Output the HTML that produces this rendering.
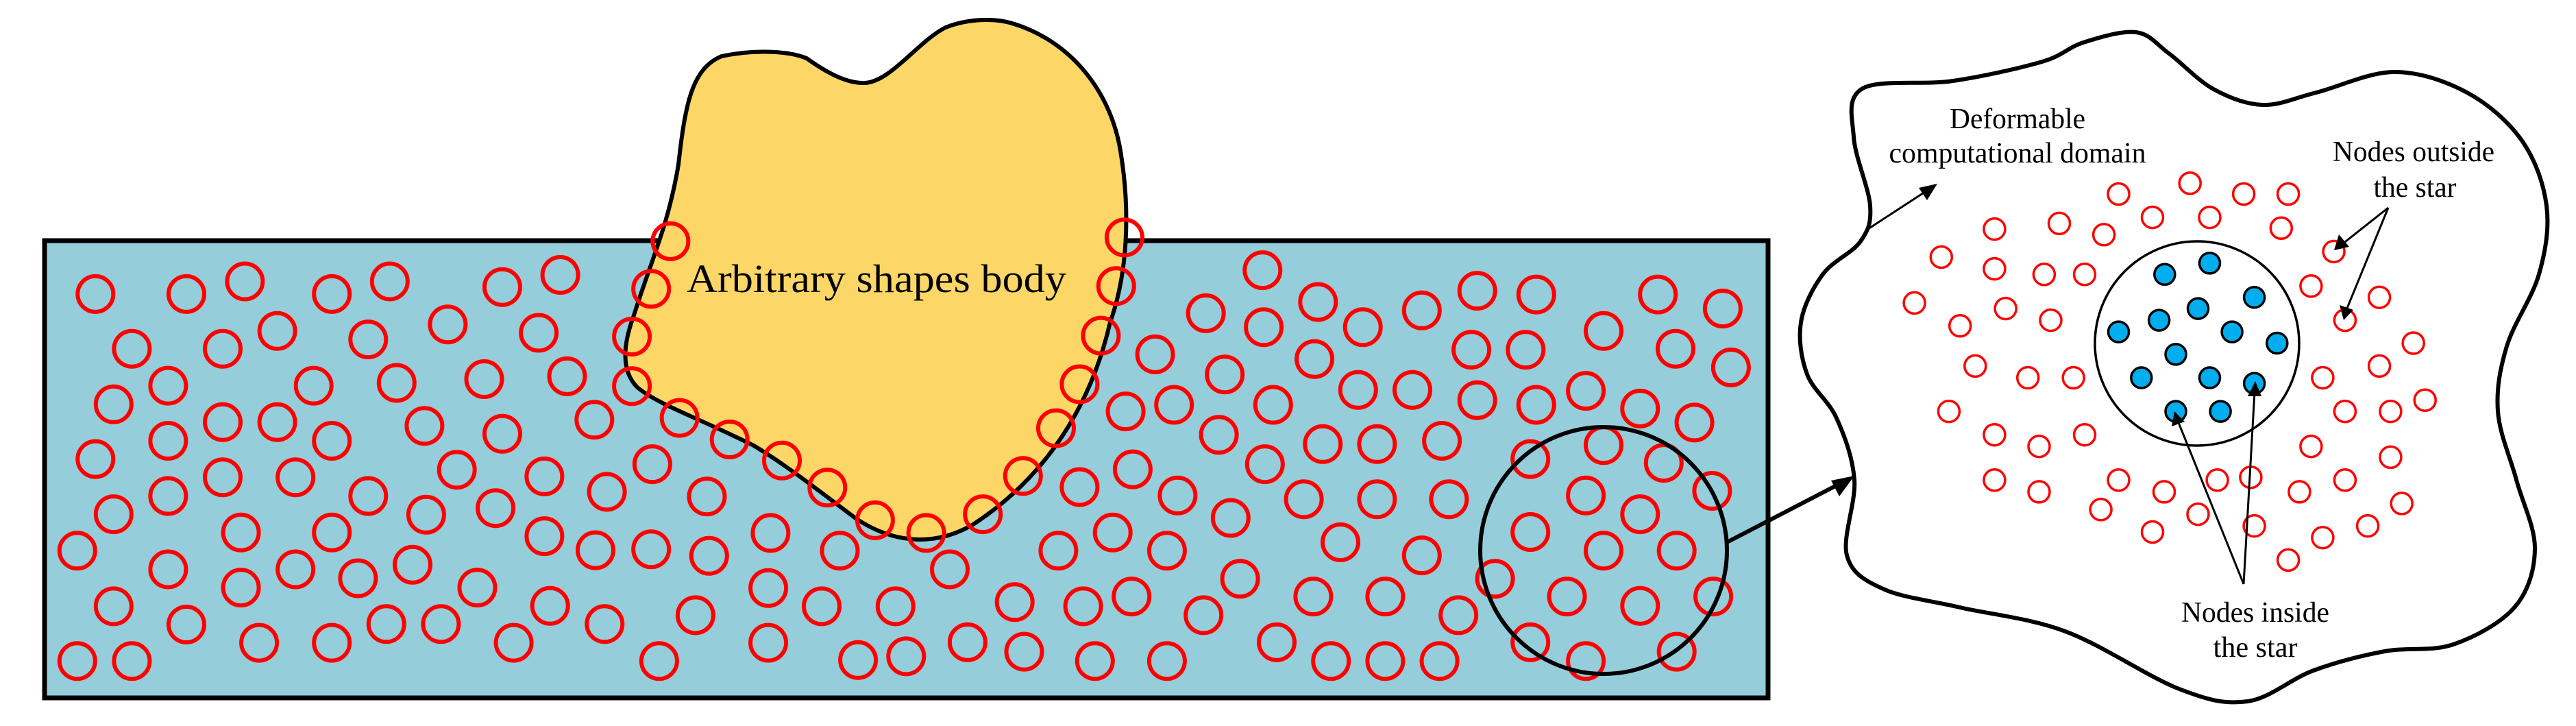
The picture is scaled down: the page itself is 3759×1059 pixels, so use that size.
<!DOCTYPE html>
<html><head><meta charset="utf-8"><style>
html,body{margin:0;padding:0;background:#fff;}
svg{display:block;}
text{font-family:"Liberation Serif",serif;fill:#000;}
</style></head><body>
<svg id="s" xmlns="http://www.w3.org/2000/svg" width="3759" height="1059" viewBox="0 0 3759 1059">
<rect x="65" y="351" width="2515" height="667" fill="#96CDDA" stroke="#000" stroke-width="7"/>
<path d="M1053,82 C1100,72 1150,74 1177,85 C1205,105 1235,122 1262,121 C1300,119 1340,60 1380,40 C1410,28 1450,25 1480,35 C1560,60 1620,130 1635,220 C1650,310 1645,400 1620,470 C1590,600 1520,700 1420,765 C1360,800 1300,790 1250,757 C1200,720 1150,680 1100,650 C1020,610 960,590 930,565 C905,540 910,500 925,460 C950,380 975,330 990,240 C1000,150 1010,100 1053,82 Z" fill="#FCD767" stroke="#000" stroke-width="6"/>
<g id="red1" fill="none" stroke="#FF0000" stroke-width="6"></g>
<text x="1002" y="426" font-size="58" textLength="554" lengthAdjust="spacingAndGlyphs">Arbitrary shapes body</text>
<circle cx="2340" cy="803" r="180" fill="none" stroke="#000" stroke-width="6"/>
<line x1="2520" y1="791" x2="2680" y2="708" stroke="#000" stroke-width="6"/>
<polygon points="2706,694 2672,701 2684,724" fill="#000"/>
<path id="dom" fill="none" stroke="#000" stroke-width="6"/>
<circle cx="3206" cy="501" r="149" fill="none" stroke="#000" stroke-width="3.5"/>
<g id="red2" fill="none" stroke="#FF0000" stroke-width="3.5"></g>
<g id="blue" fill="#00AEEF" stroke="#000" stroke-width="3.5"></g>
<line x1="2726" y1="334" x2="2812" y2="278" stroke="#000" stroke-width="3"/>
<polygon points="2827,268 2800,274 2812,292" fill="#000"/>
<text x="2944" y="187" font-size="42" text-anchor="middle" textLength="198" lengthAdjust="spacingAndGlyphs">Deformable</text>
<text x="2944" y="237" font-size="42" text-anchor="middle" textLength="375" lengthAdjust="spacingAndGlyphs">computational domain</text>
<text x="3522" y="235" font-size="42" text-anchor="middle" textLength="236" lengthAdjust="spacingAndGlyphs">Nodes outside</text>
<text x="3524" y="287" font-size="42" text-anchor="middle" textLength="121" lengthAdjust="spacingAndGlyphs">the star</text>
<text x="3291" y="907" font-size="42" text-anchor="middle" textLength="216" lengthAdjust="spacingAndGlyphs">Nodes inside</text>
<text x="3291" y="958" font-size="42" text-anchor="middle" textLength="123" lengthAdjust="spacingAndGlyphs">the star</text>
<g stroke="#000" stroke-width="3" fill="none">
<line x1="3485" y1="303" x2="3418" y2="356"/>
<line x1="3485" y1="303" x2="3424" y2="452"/>
<line x1="3274" y1="852" x2="3178" y2="614"/>
<line x1="3274" y1="852" x2="3290" y2="572"/>
</g>
<g fill="#000">
<polygon points="3406,365 3413,342 3428,360"/>
<polygon points="3420,467 3414,445 3434,452"/>
<polygon points="3173,600 3169,622 3188,615"/>
<polygon points="3291,556 3280,578 3300,578"/>
</g>
</svg>
<script>
var NS="http://www.w3.org/2000/svg";
function add(g,x,y,r){var c=document.createElementNS(NS,"circle");c.setAttribute("cx",x.toFixed(1));c.setAttribute("cy",y.toFixed(1));c.setAttribute("r",r);document.getElementById(g).appendChild(c);}
var sy=1.4665;
var z1=[[168,629],[328,629],[431,602],[584,629],[686,602],[884,614],[986,588],[232,746],[392,746],[488,708],[648,726],[788,694],[948,712],[296,825],[552,825],[698,819],[852,811],[998,805],[200,865],[392,903],[488,903],[584,943],[296,943],[747,911],[884,928],[1046,898],[168,982],[392,1021],[520,1021],[804,1005],[958,1019],[1148,993],[296,1061],[648,1061],[1068,1052],[1244,1062],[200,1100],[750,1101],[872,1087],[136,1178],[424,1139],[584,1139],[958,1147],[1048,1177],[1146,1175],[1248,1189],[1356,1140],[1478,1178],[296,1218],[520,1218],[630,1237],[726,1208],[840,1257],[200,1297],[424,1257],[968,1296],[1352,1258],[1446,1297],[328,1336],[680,1335],[776,1335],[1064,1335],[1224,1316],[456,1375],[584,1375],[904,1375],[1352,1375],[136,1414],[232,1414],[1160,1414],[1510,1412],[1180,516],[1146,618],[1112,720],[1112,826],[1196,894],[1284,940],[1376,985],[1456,1043],[1540,1113]];
z1.forEach(function(p){add("red1",p[0]/1.206,p[1]/sy,26);});
var z2=[[454,508],[440,612],[414,718],[378,822],[338,916],[282,1018],[214,1100],[118,1140],[688,578],[592,670],[690,700],[782,646],[858,700],[958,664],[1052,622],[1152,630],[1266,708],[1358,630],[1468,660],[506,758],[624,801],[776,768],[1042,748],[1134,748],[1388,746],[1482,786],[456,880],[538,866],[706,866],[850,834],[942,834],[1052,856],[1152,866],[1236,836],[1328,874],[1420,904],[614,930],[790,950],[882,950],[992,943],[1142,982],[1266,952],[1368,990],[468,1004],[378,1042],[544,1060],[692,993],[758,1068],[882,1068],[1004,1068],[1236,1060],[1450,1050],[1328,1100],[158,1218],[342,1178],[434,1139],[526,1178],[634,1108],[820,1160],[958,1188],[1142,1138],[1266,1178],[1390,1178],[66,1297],[268,1288],[384,1297],[466,1276],[588,1316],[650,1238],[774,1276],[896,1276],[1020,1316],[1082,1238],[1204,1276],[1328,1296],[1452,1276],[84,1404],[188,1374],[284,1394],[404,1414],[526,1414],[712,1374],[804,1414],[896,1414],[988,1414],[1142,1374],[1236,1414],[1390,1394]];
z2.forEach(function(p){add("red1",1250+p[0]/1.1615,p[1]/sy,26);});
var z3r=[[665,415],[806,392],[912,415],[1000,415],[732,465],[845,465],[986,488],[548,478],[420,490],[636,502],[315,550],[420,575],[518,587],[598,587],[262,648],[442,660],[352,697],[531,685],[1045,612],[1090,538],[1180,636],[1112,685],[382,783],[486,808],[576,808],[1068,808],[1180,783],[1247,734],[330,880],[420,930],[508,955],[598,930],[1112,880],[1202,880],[1270,856],[1045,955],[1202,978],[420,1027],[508,1052],[665,1027],[755,1052],[860,1027],[926,1021],[1022,1052],[1112,1027],[630,1090],[822,1100],[732,1138],[933,1125],[1068,1150],[1157,1125],[1224,1077],[1000,1198]];
z3r.forEach(function(p){add("red2",2600+p[0]/1.353,p[1]/sy,15.5);});
var z3b=[[845,563],[756,587],[933,636],[822,660],[745,685],[665,710],[889,710],[978,734],[778,758],[710,808],[845,808],[933,820],[778,880],[866,880]];
z3b.forEach(function(p){add("blue",2600+p[0]/1.353,p[1]/sy,15);});
var P=[[2718,129],[2850,118],[2980,90],[3040,62],[3117,47],[3165,78],[3230,130],[3302,153],[3380,135],[3494,105],[3600,135],[3680,205],[3716,300],[3705,400],[3658,505],[3645,600],[3672,700],[3699,800],[3670,885],[3580,940],[3480,950],[3376,978],[3280,1023],[3180,1005],[3014,921],[2860,886],[2748,859],[2695,810],[2706,700],[2680,610],[2637,546],[2628,470],[2660,400],[2715,352],[2729,300],[2705,200]];
var n=P.length,d="M"+P[0][0]+","+P[0][1];
for(var i=0;i<n;i++){var p0=P[(i-1+n)%n],p1=P[i],p2=P[(i+1)%n],p3=P[(i+2)%n];
var c1=[p1[0]+(p2[0]-p0[0])/6,p1[1]+(p2[1]-p0[1])/6],c2=[p2[0]-(p3[0]-p1[0])/6,p2[1]-(p3[1]-p1[1])/6];
d+=" C"+c1[0].toFixed(1)+","+c1[1].toFixed(1)+" "+c2[0].toFixed(1)+","+c2[1].toFixed(1)+" "+p2[0]+","+p2[1];}
document.getElementById("dom").setAttribute("d",d+"Z");
</script>
</body></html>
